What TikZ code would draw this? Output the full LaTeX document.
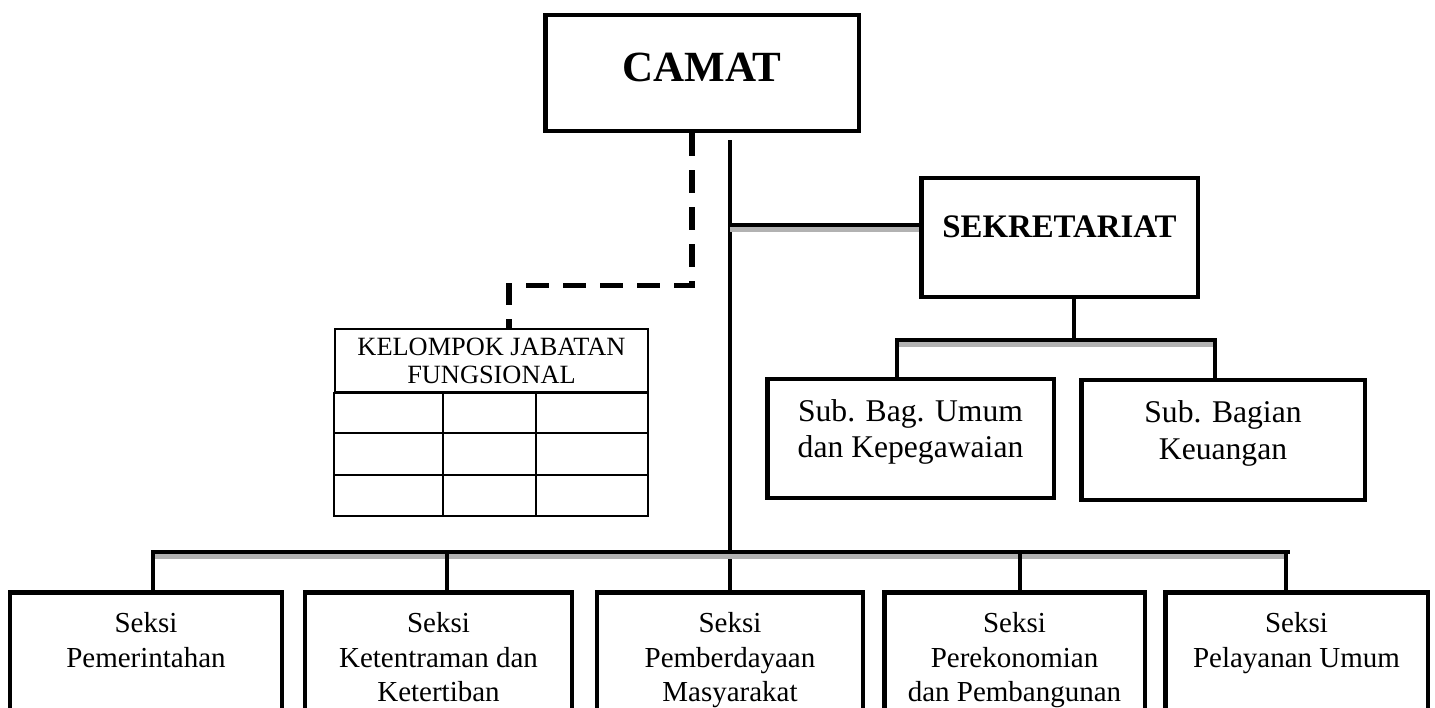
\documentclass[tikz,border=0pt]{standalone}
\usepackage{fontspec}
\setmainfont{Liberation Serif}

\begin{document}
\begin{tikzpicture}[x=0.02cm, y=-0.02cm,
    box/.style={draw, line width=2.8pt, inner sep=2pt, align=center},
    conn/.style={line width=2.8pt, line cap=rect},
    bar/.style={conn, preaction={draw=gray!60, line width=2.5pt, transform canvas={yshift=-2.5pt}}},
    dashline/.style={line width=3pt, dash pattern=on 13pt off 8pt},
    gridline/.style={line width=1.2pt},
    seksi/.style={box, anchor=north, minimum height=2.8cm, text height=44.2pt, text depth=0pt, font=\fontsize{16.5}{19.5}\selectfont} ]
        \useasboundingbox (0,0) rectangle (1435,707);
        \clip (0,0) rectangle (1435,707);
        % top
        \node[box, minimum width=6.28cm, minimum height=2.32cm, text height=10pt, text depth=0pt, font=\fontsize{24.5}{28}\selectfont\bfseries] (camat) at (702,73) {CAMAT};
        \node[box, minimum width=5.54cm, minimum height=2.38cm, text height=0pt, text depth=0pt, font=\fontsize{18.7}{21}\selectfont\bfseries] (sek) at (1059.5,237.5) {SEKRETARIAT};
        \node[box, minimum width=5.74cm, minimum height=2.38cm, text height=22.1pt, text depth=0pt, font=\fontsize{18}{21}\selectfont] (subum) at (910.5,438.5) {Sub. Bag. Umum\\dan Kepegawaian};
        \node[box, minimum width=5.68cm, minimum height=2.4cm, text height=22.1pt, text depth=0pt, font=\fontsize{18}{21}\selectfont] (subku) at (1223,440) {Sub. Bagian\\Keuangan};
        % kelompok jabatan fungsional
        \node[draw, gridline, minimum width=6.26cm, minimum height=1.26cm, align=center, inner sep=1pt, font=\fontsize{15}{16}\selectfont] (kjf) at (491.5,360.5) {KELOMPOK JABATAN\\FUNGSIONAL};
        \draw[gridline] (kjf.south west) rectangle (648,516);
        \foreach \y in {433,475} \draw[gridline] (335,\y) -- (648,\y);
        \foreach \x in {443,536} \draw[gridline] (\x,392) -- (\x,516);
        % seksi
        \node[seksi, minimum width=5.44cm] (s1) at (146,590) {Seksi\\Pemerintahan\\~};
        \node[seksi, minimum width=5.34cm] (s2) at (438.5,590) {Seksi\\Ketentraman dan\\Ketertiban};
        \node[seksi, minimum width=5.32cm] (s3) at (730,590) {Seksi\\Pemberdayaan\\Masyarakat};
        \node[seksi, minimum width=5.22cm] (s4) at (1014.5,590) {Seksi\\Perekonomian\\dan Pembangunan};
        \node[seksi, minimum width=5.26cm] (s5) at (1296.5,590) {Seksi\\Pelayanan Umum\\~};
        % lines
        \draw[dashline] ([xshift=-0.2cm]camat.south) -- ++(0,152) -| ([xshift=0.35cm]kjf.north);
        \draw[line width=2.8pt, shorten <=4pt] (camat.south -| s3.north) -- (s3.north);
        \coordinate (jsek) at (730,225);
        \draw[bar] (jsek) -- (jsek -| sek.west);
        \coordinate (subL) at (897,340);
        \coordinate (subM) at (1074,340);
        \coordinate (subR) at (1215,340);
        \draw[conn] (subM |- sek.south) -- (subM);
        \draw[bar] (subL) -- (subR);
        \draw[conn] (subL) -- (subL |- subum.north);
        \draw[conn] (subR) -- (subR |- subku.north);
        \coordinate (barL) at (153,552);
        \coordinate (barR) at (1288,552);
        \draw[bar] (barL) -- (barR);
        \foreach \x/\s in {153/s1, 447/s2, 1020/s4, 1286/s5} {
            \coordinate (drop) at (\x,552);
            \draw[conn] (drop) -- (drop |- \s.north);
        }
    \end{tikzpicture}
\end{document}
